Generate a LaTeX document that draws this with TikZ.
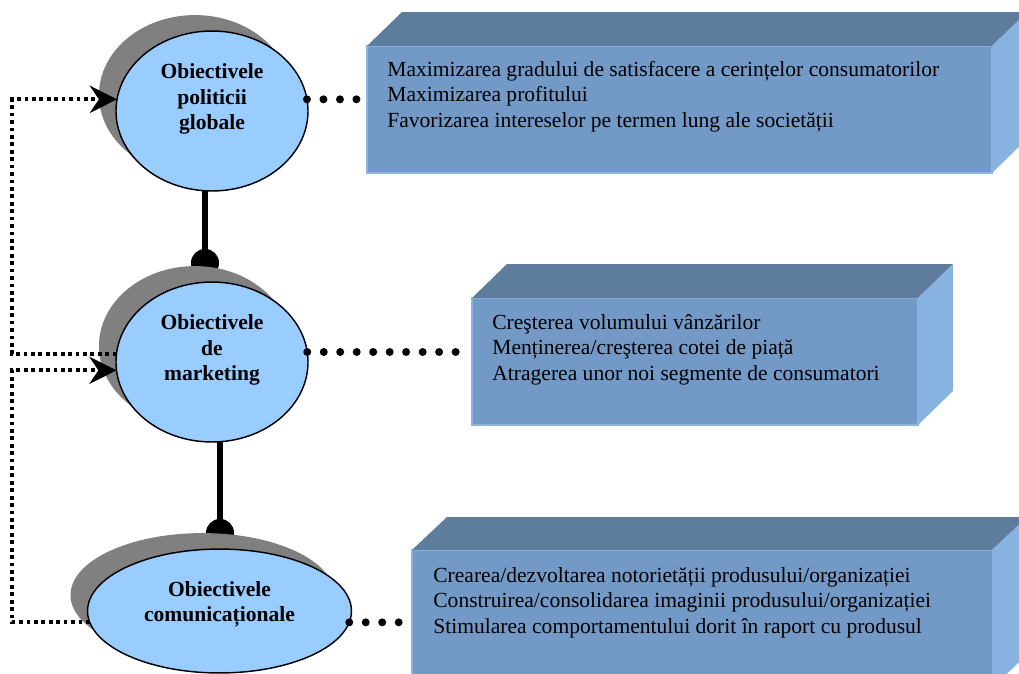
\documentclass[tikz,border=0pt]{standalone}
\usepackage{fontspec}
\setmainfont{Liberation Serif}
\usetikzlibrary{shapes.geometric,shadows,arrows.meta,calc,backgrounds}
\definecolor{ellfill}{HTML}{99CCFF}
\definecolor{shadowgray}{HTML}{808080}
\definecolor{frontblue}{HTML}{7399C6}
\definecolor{topblue}{HTML}{5E7C9C}
\definecolor{sideblue}{HTML}{88B2E0}
\definecolor{edgeblue}{HTML}{8DB4E2}
\newcommand{\diagfont}{\fontsize{11.9}{14}\selectfont}

\begin{document}
\begin{tikzpicture}[x=0.552pt,y=-0.552pt,
  obj/.style={ellipse,draw,line width=0.8pt,fill=ellfill,inner sep=0pt,outer sep=0pt,
    drop shadow={shadow xshift=-9.4pt,shadow yshift=8.8pt,fill=shadowgray,opacity=1}},
  objtext/.style={font=\diagfont\bfseries,align=center,inner sep=0pt},
  front/.style={rectangle,fill=frontblue,draw=edgeblue,line width=0.6pt,anchor=north west,
    inner sep=0pt,outer sep=0pt,minimum height=70.1pt},
  items/.style={font=\diagfont,align=left,anchor=north west,inner sep=0pt},
  link/.style={line width=3pt,-{Circle[length=15.5pt,line width=0pt]}},
  bigdots/.style={line width=4.4pt,line cap=round,dash pattern=on 0pt off 9.1pt},
  feedback/.style={line width=2.1pt,dash pattern=on 2.1pt off 2pt,
    -{Stealth[length=15pt,width=15pt,inset=5pt]}}]
\useasboundingbox (0,0) rectangle (1019,674);
\clip (0,0) rectangle (1019,674);

% boxes
\node[front,minimum width=345pt] (pbox) at (367,46) {};
\fill[topblue] (pbox.north west) -- ++(35,-34) -- ($(pbox.north east)+(35,-34)$) -- (pbox.north east) -- cycle;
\fill[sideblue] (pbox.north east) -- ++(35,-34) -- ($(pbox.south east)+(35,-34)$) -- (pbox.south east) -- cycle;
\node[items] (pitems) at ($(pbox.north west)+(20,15)$) {Maximizarea gradului de satisfacere a cerințelor consumatorilor\\Maximizarea profitului\\Favorizarea intereselor pe termen lung ale societății};

\node[front,minimum width=246.2pt] (mbox) at (472,298) {};
\fill[topblue] (mbox.north west) -- ++(35,-34) -- ($(mbox.north east)+(35,-34)$) -- (mbox.north east) -- cycle;
\fill[sideblue] (mbox.north east) -- ++(35,-34) -- ($(mbox.south east)+(35,-34)$) -- (mbox.south east) -- cycle;
\node[items] (mitems) at ($(mbox.north west)+(20,16)$) {Creşterea volumului vânzărilor\\Menținerea/creşterea cotei de piață\\Atragerea unor noi segmente de consumatori};

\node[front,minimum width=320.2pt,minimum height=76pt] (cbox) at (412,550) {};
\fill[topblue] (cbox.north west) -- ++(35,-33) -- ($(cbox.north east)+(35,-33)$) -- (cbox.north east) -- cycle;
\fill[sideblue] (cbox.north east) -- ++(35,-33) -- ($(cbox.south east)+(35,-33)$) -- (cbox.south east) -- cycle;
\node[items] (citems) at ($(cbox.north west)+(21,17)$) {Crearea/dezvoltarea notorietății produsului/organizației\\Construirea/consolidarea imaginii produsului/organizației\\Stimularea comportamentului dorit în raport cu produsul};

% objectives
\node[obj,minimum width=106pt,minimum height=88.3pt] (polit) at (212,111) {};
\node[objtext] (polittext) at (212,99) {Obiectivele\\politicii\\globale};
\node[obj,minimum width=106pt,minimum height=88.3pt] (mark) at (212,362) {};
\node[objtext] (marktext) at (212,350) {Obiectivele\\de\\marketing};
\node[obj,minimum width=145.7pt,minimum height=68.4pt] (comun) at (219.5,611) {};
\node[objtext] (comuntext) at (219.5,604) {Obiectivele\\comunicaționale};

% links
\coordinate (c1) at (205,277);
\coordinate (c2) at (220,547);
\begin{scope}[on background layer]
\draw[link] (polit.south -| c1) -- (c1);
\draw[link] (mark.south -| c2) -- (c2);
\end{scope}

\draw[bigdots] (polit.7) -- (pbox.west |- polit.7);
\draw[bigdots] (mark.6) -- (mbox.west |- mark.6);
\draw[bigdots] (comun.355) -- (cbox.west |- comun.355);

% feedback
\coordinate (left) at (12,0);
\draw[feedback] (mark.175) -| (left |- polit.173) -- (polit.173);
\draw[feedback] (comun.185) -| (left |- mark.185) -- (mark.185);
\end{tikzpicture}
\end{document}
